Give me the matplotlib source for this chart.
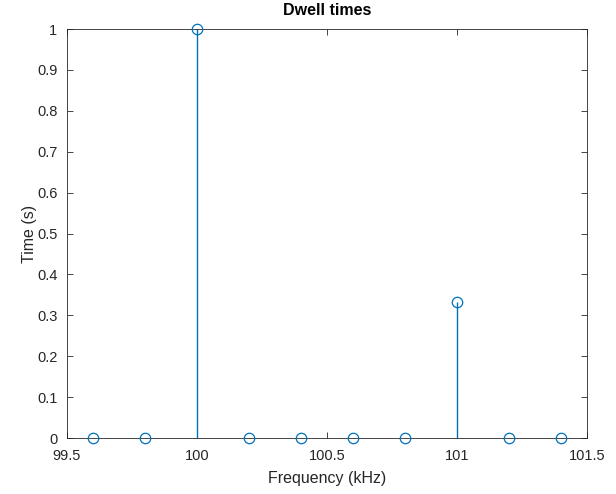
import matplotlib
matplotlib.use("Agg")
import matplotlib.pyplot as plt

freq_khz = [99.6, 99.8, 100.0, 100.2, 100.4, 100.6, 100.8, 101.0, 101.2, 101.4]
dwell_s = [0, 0, 1.0, 0, 0, 0, 0, 0.3333, 0, 0]
xticks = [99.5, 100, 100.5, 101, 101.5]
xticklabels = ["99.5", "100", "100.5", "101", "101.5"]
yticks = [0, 0.1, 0.2, 0.3, 0.4, 0.5, 0.6, 0.7, 0.8, 0.9, 1]
yticklabels = ["0", "0.1", "0.2", "0.3", "0.4", "0.5", "0.6", "0.7", "0.8", "0.9", "1"]

plt.rcParams['font.family'] = ['Liberation Sans', 'DejaVu Sans']
fig = plt.figure(figsize=(6.16, 4.94), dpi=100)
ax = fig.add_axes([67/616, 1-438/494, (587-67)/616, (438-29)/494])

c = '#0072BD'
ml, sl, bl = ax.stem(freq_khz, dwell_s, basefmt=' ')
plt.setp(sl, color=c, linewidth=1.0)
plt.setp(ml, color=c, markerfacecolor='none', markersize=7.5, markeredgewidth=0.9, clip_on=False)
ml.set_zorder(3)

ax.set_xlim(99.5, 101.5)
ax.set_ylim(0, 1)
ax.set_xticks(xticks)
ax.set_xticklabels(xticklabels)
ax.set_yticks(yticks)
ax.set_yticklabels(yticklabels)
axc = '#262626'
for s in ax.spines.values():
    s.set_color(axc)
    s.set_linewidth(0.6)
ax.tick_params(direction='in', top=True, right=True, length=4, width=0.6,
               colors=axc, labelsize=10.5)
ax.tick_params(axis='x', pad=8)
ax.tick_params(axis='y', pad=7)
ax.set_xlabel('Frequency (kHz)', fontsize=11.5, color=axc, labelpad=6)
ax.set_ylabel('Time (s)', fontsize=11.5, color=axc, labelpad=0)
ax.set_title('Dwell times', fontsize=11.5, fontweight='bold', color='black', pad=10)

fig.savefig('out.png', dpi=100)
